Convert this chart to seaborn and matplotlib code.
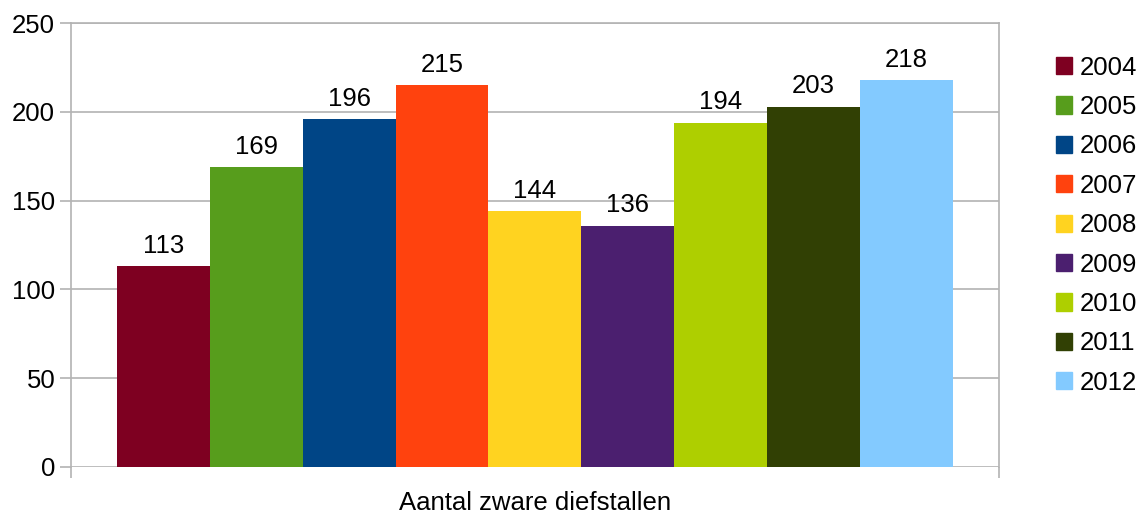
import pandas as pd
import matplotlib.pyplot as plt
import seaborn as sns
from matplotlib.patches import Patch

# --- datos ---
categorie = "Aantal zware diefstallen"
jaren = ["2004", "2005", "2006", "2007", "2008", "2009", "2010", "2011", "2012"]
waarden = [113, 169, 196, 215, 144, 136, 194, 203, 218]
kleuren = ["#7e0021", "#579d1c", "#004586", "#ff420e", "#ffd320",
           "#4b1f6f", "#aecf00", "#314004", "#83caff"]

df = pd.DataFrame({"categorie": [categorie] * len(jaren), "jaar": jaren, "waarde": waarden})

sns.set_style("white")
plt.rcParams['font.family'] = ['Liberation Sans', 'DejaVu Sans']
plt.rcParams['text.color'] = 'black'
plt.rcParams['xtick.color'] = 'black'
plt.rcParams['ytick.color'] = 'black'
grijs = "#b3b3b3"
fs = 18.5

fig, ax = plt.subplots(figsize=(11.41, 5.13), dpi=100)
fig.subplots_adjust(left=0.0618, right=0.8756, top=0.955, bottom=0.0897)

sns.barplot(data=df, x="categorie", y="waarde", hue="jaar", palette=kleuren,
            width=0.9, saturation=1, gap=0, legend=False, ax=ax, zorder=3,
            linewidth=0)

for cont in ax.containers:
    ax.bar_label(cont, padding=6, fontsize=fs, color="black")

ax.set_xlim(-0.5, 0.5)
ax.set_ylim(0, 250)
ax.set_yticks(range(0, 251, 50))
ax.yaxis.grid(True, color=grijs, linewidth=1.2, zorder=0)
ax.set_axisbelow(True)
for s in ax.spines.values():
    s.set_color(grijs)
    s.set_linewidth(1.2)
ax.spines["bottom"].set_visible(False)
ax.set_xlabel("")
ax.set_ylabel("")
ax.tick_params(axis="y", length=8, width=1.2, color=grijs, labelcolor="black",
               labelsize=fs, pad=3, left=True)
ax.tick_params(axis="x", which="major", length=0, labelsize=fs, labelcolor="black", pad=17)
ax.set_xticks([-0.5, 0.5], minor=True)
ax.tick_params(axis="x", which="minor", length=8, width=1.2, color=grijs, bottom=True)

handles = [Patch(facecolor=k, edgecolor=k) for k in kleuren]
ax.legend(handles, jaren, loc="upper left", bbox_to_anchor=(1.05, 0.95),
          frameon=False, fontsize=fs, handlelength=0.65, handleheight=0.65,
          handletextpad=0.28, labelspacing=0.6, borderaxespad=0)

fig.savefig("out.png", dpi=100)
